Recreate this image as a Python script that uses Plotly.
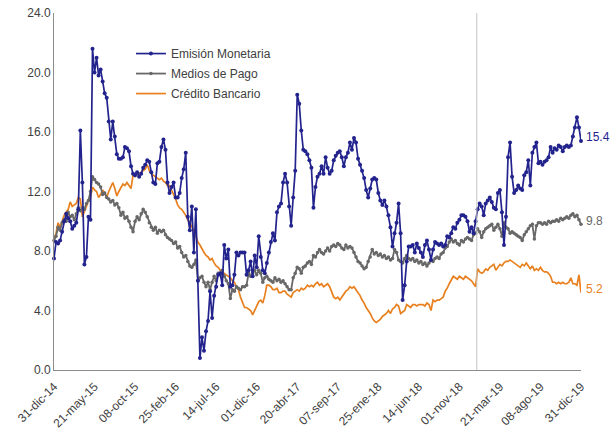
import pandas as pd
import plotly.graph_objects as go

MESES = ["ene", "feb", "mar", "abr", "may", "jun", "jul", "ago", "sep", "oct", "nov", "dic"]
_d = [pd.Timestamp("2014-12-31")] + list(pd.date_range("2015-01-08", periods=260, freq="7D"))
_d[-1] = pd.Timestamp("2019-12-31")
FECHAS = [f"{d.day:02d}-{MESES[d.month - 1]}-{d.strftime('%y')}" for d in _d]

TICK_LABELS = ["31-dic-14", "21-may-15", "08-oct-15", "25-feb-16", "14-jul-16", "01-dic-16",
               "20-abr-17", "07-sep-17", "25-ene-18", "14-jun-18", "01-nov-18", "21-mar-19",
               "08-ago-19", "31-dic-19"]
Y_TICKS = [0, 4, 8, 12, 16, 20, 24]
Y_TICK_TEXT = ["0.0", "4.0", "8.0", "12.0", "16.0", "20.0", "24.0"]

EMISION = [
    7.5, 8.6, 8.5, 8.7, 9.3, 10.0, 10.5, 10.2, 10.0, 9.5,
    9.7, 9.9, 10.8, 16.1, 12.6, 7.1, 7.6, 10.3, 10.1, 21.6,
    20.0, 21.0, 19.8, 20.2, 19.4, 18.6, 18.3, 16.7, 15.5, 16.7,
    15.7, 14.5, 14.2, 14.2, 14.3, 15.0, 14.9, 14.7, 13.7, 13.2,
    13.1, 13.3, 13.0, 13.2, 13.6, 13.8, 14.1, 14.0, 13.3, 12.6,
    12.5, 13.9, 14.0, 15.0, 15.5, 14.8, 12.6, 11.9, 12.3, 12.6,
    11.6, 11.6, 11.9, 12.9, 13.5, 14.6, 10.3, 9.4, 11.0, 7.9,
    10.8, 6.0, 0.8, 2.2, 1.3, 2.6, 3.3, 5.3, 3.5, 5.0,
    5.6, 6.4, 6.5, 5.7, 8.4, 7.5, 8.1, 5.6, 5.7, 6.4,
    7.9, 7.7, 7.9, 7.9, 7.9, 6.4, 6.7, 7.3, 6.3, 7.7,
    6.9, 9.0, 7.6, 6.7, 6.5, 7.2, 7.9, 8.6, 9.2, 8.7,
    10.6, 11.0, 11.2, 12.6, 13.2, 12.6, 11.0, 9.7, 11.6, 13.4,
    18.5, 17.9, 16.1, 14.8, 14.7, 14.5, 14.1, 13.6, 10.9, 12.3,
    13.0, 13.2, 13.7, 13.2, 14.3, 13.6, 13.2, 13.4, 14.1, 14.4,
    14.6, 14.7, 14.3, 13.7, 14.3, 14.6, 15.3, 14.8, 15.6, 15.3,
    14.2, 13.8, 13.4, 12.9, 12.1, 11.6, 12.2, 12.8, 12.9, 12.8,
    11.9, 11.4, 11.1, 11.4, 11.0, 10.4, 9.6, 8.3, 9.2, 9.9,
    11.2, 9.2, 4.7, 5.7, 7.3, 8.3, 8.3, 8.4, 7.9, 8.5,
    8.2, 7.9, 7.6, 8.4, 8.7, 8.1, 7.4, 8.1, 8.6, 8.5,
    8.4, 8.5, 8.3, 8.4, 9.0, 8.9, 9.2, 9.6, 9.5, 9.9,
    10.1, 10.4, 10.4, 10.3, 10.0, 9.3, 9.6, 9.2, 10.0, 10.8,
    11.2, 11.0, 10.4, 11.2, 11.4, 11.6, 11.3, 10.9, 10.8, 11.9,
    12.1, 10.6, 8.4, 10.3, 14.3, 15.3, 13.0, 11.9, 12.1, 12.4,
    12.2, 12.1, 13.1, 13.3, 14.1, 12.4, 14.6, 15.0, 15.3, 13.9,
    14.0, 13.8, 14.0, 14.1, 14.3, 15.0, 14.6, 14.9, 14.8, 15.1,
    15.0, 14.7, 15.0, 15.1, 15.0, 15.1, 15.7, 16.3, 17.0, 16.3,
    15.4,
]

MEDIOS = [
    8.7, 9.0, 9.6, 9.4, 9.9, 10.1, 10.0, 10.6, 10.3, 10.4,
    10.1, 10.5, 10.9, 10.7, 10.9, 10.8, 11.2, 11.4, 12.0, 13.0,
    12.8, 12.6, 12.5, 12.3, 11.8, 11.9, 11.6, 11.5, 11.3, 11.4,
    11.1, 11.2, 10.9, 10.4, 10.6, 10.2, 10.3, 10.0, 9.6, 9.3,
    10.0, 10.3, 10.1, 10.5, 10.8, 10.6, 10.3, 9.9, 9.6, 9.4,
    9.6, 9.2, 9.4, 9.3, 9.4, 9.1, 8.9, 8.8, 8.7, 8.5,
    8.6, 8.2, 8.3, 7.9, 7.6, 7.7, 7.3, 7.0, 6.9, 7.1,
    7.4, 6.0, 6.2, 6.3, 5.9, 5.6, 5.9, 5.4, 5.9, 6.3,
    6.0, 6.5, 6.4, 6.7, 6.3, 6.0, 5.8, 4.8, 5.4, 5.3,
    5.6, 5.5, 5.4, 5.6, 5.6, 5.7, 6.5, 6.3, 6.5, 6.7,
    6.4, 6.7, 6.5, 5.9, 6.2, 6.3, 6.1, 6.0, 5.9, 6.2,
    6.0, 6.1, 5.9, 6.0, 5.8, 5.6, 5.4, 5.4, 6.2, 6.5,
    6.9, 6.8, 6.5, 6.9, 7.0, 7.2, 7.3, 7.1, 7.7, 7.6,
    7.9, 8.1, 7.9, 7.8, 8.0, 8.2, 8.0, 8.3, 8.4, 8.3,
    8.5, 8.4, 8.2, 8.1, 8.4, 8.2, 8.3, 8.2, 7.9, 7.6,
    7.3, 7.2, 7.0, 6.8, 6.9, 7.3, 7.6, 8.1, 7.8, 7.9,
    7.7, 7.8, 7.6, 7.7, 7.5, 7.6, 7.4, 7.5, 8.1, 7.9,
    7.4, 7.3, 7.2, 7.5, 7.7, 7.5, 7.4, 7.5, 7.3, 7.4,
    7.2, 7.3, 7.1, 7.2, 7.0, 7.2, 7.4, 7.3, 7.5, 7.6,
    7.5, 7.8, 7.9, 8.2, 8.3, 8.6, 8.8, 8.6, 8.7, 8.5,
    8.4, 8.7, 8.6, 8.8, 8.9, 8.8, 8.7, 9.1, 9.2, 9.5,
    9.3, 8.9, 9.3, 9.5, 9.6, 9.7, 9.8, 9.4, 9.6, 9.8,
    9.5, 9.0, 9.9, 9.6, 9.5, 9.2, 9.3, 9.2, 9.1, 9.0,
    8.9, 8.7, 9.1, 9.3, 9.5, 9.7, 9.8, 8.8, 9.7, 9.9,
    9.9, 9.8, 9.9, 9.8, 10.0, 9.9, 10.0, 10.0, 10.1, 10.0,
    10.2, 10.1, 10.2, 10.3, 10.2, 10.4, 10.5, 10.3, 10.4, 10.1,
    9.8,
]

CREDITO = [
    8.8, 9.2, 9.9, 9.6, 10.0, 10.4, 10.6, 10.8, 11.3, 11.0,
    11.1, 11.2, 11.6, 11.5, 10.3, 10.6, 11.0, 11.4, 11.6, 12.3,
    12.1, 12.0, 11.6, 11.8, 12.1, 11.9, 11.6, 12.0, 12.3, 12.6,
    12.2, 11.7, 12.0, 12.3, 12.5, 12.4, 12.6, 12.4, 12.2, 13.1,
    13.0, 13.2, 13.2, 13.3, 13.4, 13.5, 13.8, 13.4, 13.2, 13.1,
    13.0, 12.9, 12.8, 12.9, 12.7, 12.6, 12.4, 12.4, 12.1, 11.9,
    11.5, 11.1, 10.9, 10.8, 10.6, 10.4, 10.1, 9.9, 9.6, 9.4,
    9.0, 8.6, 8.4, 8.1, 7.9, 7.7, 7.6, 7.4, 7.5, 7.2,
    7.0, 6.9, 6.7, 6.6, 6.5, 6.4, 6.3, 6.2, 6.0, 5.9,
    5.6, 5.4, 4.9, 4.5, 4.2, 4.2, 4.1, 4.0, 3.7, 4.0,
    4.4, 4.6, 4.7, 4.5, 5.0, 5.7, 5.7, 5.6, 5.4, 5.4,
    5.5, 5.2, 5.2, 5.3, 5.3, 5.1, 5.0, 4.9, 5.2, 5.3,
    5.4, 5.3, 5.5, 5.4, 5.5, 5.7, 5.6, 5.7, 5.6, 5.8,
    5.9, 5.7, 5.8, 5.6, 5.7, 5.8, 5.6, 5.3, 4.9, 4.8,
    4.9, 4.7, 4.9, 5.1, 5.3, 5.4, 5.6, 5.5, 5.6, 5.4,
    5.2, 5.0, 4.7, 4.5, 4.2, 4.0, 3.8, 3.5, 3.3, 3.2,
    3.3, 3.4, 3.6, 3.7, 3.8, 4.0, 3.8, 4.1, 4.2, 4.4,
    4.3, 3.8, 3.9, 4.0, 4.4, 4.3, 4.2, 4.4, 4.4, 4.3,
    4.4, 4.4, 4.4, 4.3, 4.5, 4.4, 4.0, 4.7, 4.6, 4.7,
    4.7, 4.8, 4.9, 5.3, 5.5, 5.8, 6.1, 6.3, 6.2, 6.1,
    6.3, 6.2, 6.1, 6.3, 6.2, 6.1, 6.0, 5.8, 5.6, 6.8,
    6.6, 6.5, 6.6, 6.8, 6.7, 6.9, 7.0, 7.1, 6.7, 6.9,
    7.1, 7.0, 7.2, 7.3, 7.3, 7.4, 7.3, 7.2, 7.1, 7.0,
    6.9, 7.1, 7.0, 7.2, 7.0, 6.8, 7.0, 6.7, 6.8, 6.7,
    6.9, 6.7, 6.6, 6.6, 6.5, 6.3, 5.9, 5.9, 5.8, 5.9,
    5.8, 5.9, 5.8, 5.8, 5.9, 6.2, 5.8, 5.8, 5.7, 6.4,
    5.2,
]

SERIES = ["Emisión Monetaria", "Medios de Pago", "Crédito Bancario"]
COL_BLUE = "#23238E"
COL_GRAY = "#686868"
COL_ORANGE = "#E8801F"
CORTE_2019 = 208.6  # posición (índice) del inicio de 2019

fig = go.Figure()
fig.add_trace(go.Scatter(x=FECHAS, y=CREDITO, name=SERIES[2], mode="lines",
                         legendgroup="c", legendrank=3,
                         line=dict(color=COL_ORANGE, width=1.7), cliponaxis=False))
fig.add_trace(go.Scatter(x=FECHAS, y=MEDIOS, name=SERIES[1], mode="lines+markers",
                         legendgroup="b", legendrank=2,
                         line=dict(color=COL_GRAY, width=1.8),
                         marker=dict(size=3.5, color=COL_GRAY), cliponaxis=False))
fig.add_trace(go.Scatter(x=FECHAS, y=EMISION, name=SERIES[0], mode="lines+markers",
                         legendgroup="a", legendrank=1,
                         line=dict(color=COL_BLUE, width=1.7),
                         marker=dict(size=4, color=COL_BLUE), cliponaxis=False))

fig.add_shape(type="line", xref="x", yref="paper", x0=CORTE_2019, x1=CORTE_2019,
              y0=0, y1=1, line=dict(color="#C4C4C4", width=1))

for vals, col, yshift in [(EMISION, COL_BLUE, 4), (MEDIOS, COL_GRAY, 3), (CREDITO, COL_ORANGE, 4)]:
    fig.add_annotation(x=FECHAS[-1], y=vals[-1], text=f"{vals[-1]:.1f}", showarrow=False,
                       xanchor="left", xshift=3, yshift=yshift,
                       font=dict(color=col, size=12, family="Liberation Sans, Arial"))

fig.update_layout(
    width=610, height=435,
    margin=dict(l=54, r=29, t=13, b=65),
    plot_bgcolor="white", paper_bgcolor="white",
    font=dict(family="Liberation Sans, Arial", size=12, color="#404040"),
    showlegend=True,
    legend=dict(x=0.146, y=0.927, xanchor="left", yanchor="top",
                traceorder="grouped", tracegroupgap=1,
                bgcolor="rgba(0,0,0,0)", font=dict(size=12, color="#404040"),
                itemwidth=30),
    xaxis=dict(type="category", range=[0, len(FECHAS) - 1], tickmode="array",
               tickvals=TICK_LABELS, ticktext=TICK_LABELS, tickangle=-45, automargin=False,
               showline=True, linecolor="#8C8C8C", linewidth=1, ticks="outside",
               ticklen=4, tickcolor="rgba(0,0,0,0)",
               showgrid=False, zeroline=False, tickfont=dict(size=12, color="#404040")),
    yaxis=dict(range=[0, 24], tickmode="array", tickvals=Y_TICKS, ticktext=Y_TICK_TEXT,
               automargin=False,
               showline=True, linecolor="#8C8C8C", linewidth=1, ticks="",
               showgrid=False, zeroline=False, tickfont=dict(size=12, color="#404040")),
)

fig.write_html("out.html")
